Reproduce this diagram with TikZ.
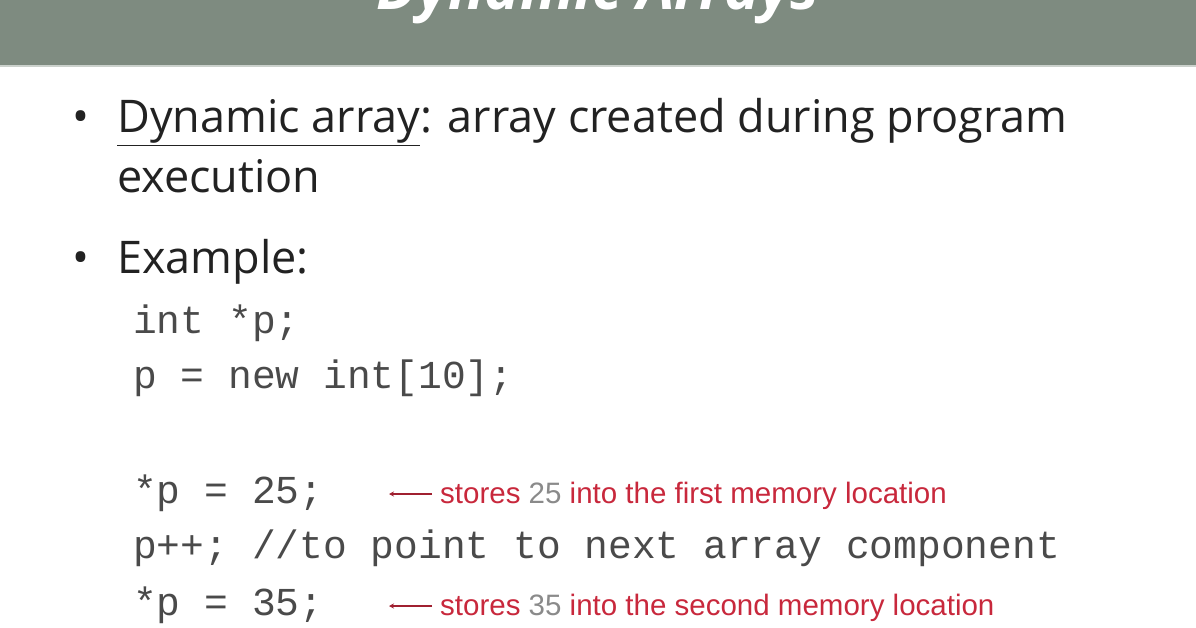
\documentclass[tikz,border=0pt]{standalone}
\usepackage{fontspec}
\usetikzlibrary{arrows.meta}
\setmainfont{Open Sans}
\newfontfamily\codefont{Liberation Mono}
\newfontfamily\notefont{Liberation Sans}
\definecolor{hdr}{HTML}{7E8B80}
\definecolor{body}{HTML}{222222}
\definecolor{code}{HTML}{4A4A4A}
\definecolor{note}{HTML}{C8283C}
\definecolor{notegrey}{HTML}{8A8A8A}
\begin{document}
\begin{tikzpicture}[x=1pt,y=-1pt,
  txt/.style={anchor=base west,inner sep=0pt,text=body,font=\fontsize{45}{45}\selectfont},
  cd/.style={anchor=base west,inner sep=0pt,text=code,font=\codefont\fontsize{39.6}{39.6}\selectfont},
  nt/.style={anchor=base west,inner sep=0pt,text=note,font=\notefont\fontsize{29.5}{29.5}\selectfont},
  arr/.style={draw=note!80!black,line width=1.6pt,-{Stealth[length=5pt,width=5pt]}}]
\useasboundingbox (0,0) rectangle (1196,628);
\fill[hdr] (0,0) rectangle (1196,65);
\fill[hdr!40!white] (0,65) rectangle (1196,67);
\begin{scope}
\clip (0,0) rectangle (1196,65);
\node[anchor=base,inner sep=0pt,text=white,font=\bfseries\itshape\fontsize{60}{60}\selectfont] (title) at (598,10) {Dynamic Arrays};
\end{scope}
\node[txt] (b1) at (72,133) {\textbullet};
\node[txt] (l1) at (117,133) {\underline{Dynamic array}: array created during program};
\node[txt] (l2) at (117,193) {execution};
\node[txt] (b2) at (72,273) {\textbullet};
\node[txt] (l3) at (117,273) {Example:};
\node[cd] (c1) at (133,333) {int *p;};
\node[cd] (c2) at (133,388) {p = new int[10];};
\node[cd] (c3) at (133,503) {*p = 25;};
\node[cd] (c4) at (133,558) {p++; //to point to next array component};
\node[cd] (c5) at (133,615) {*p = 35;};
\coordinate (a1s) at (432,494);
\coordinate (a1e) at (389,494);
\draw[arr] (a1s) -- (a1e);
\node[nt] (n1) at (440,503) {stores \textcolor{notegrey}{25} into the first memory location};
\coordinate (a2s) at (432,606);
\coordinate (a2e) at (389,606);
\draw[arr] (a2s) -- (a2e);
\node[nt] (n2) at (440,615) {stores \textcolor{notegrey}{35} into the second memory location};
\end{tikzpicture}
\end{document}
